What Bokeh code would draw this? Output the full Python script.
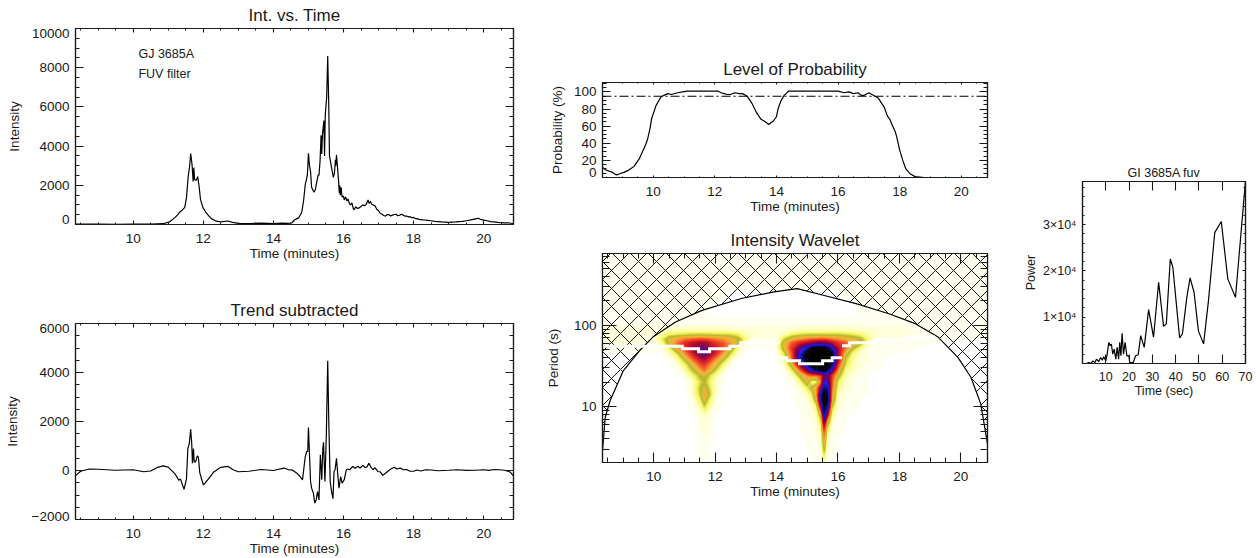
import numpy as np
from bokeh.embed import file_html
from bokeh.resources import INLINE
from bokeh.plotting import figure
from bokeh.layouts import row, column
from bokeh.models import FixedTicker, LinearAxis, LogAxis, Range1d, Label, Span

FONT = "Liberation Sans"

# ---- light curve
LC_T = [8.35,9.0,9.5,10.0,10.5,10.86,11.05,11.19,11.28,11.33,11.38,11.43,11.47,11.52,11.57,11.61,11.64,11.68,11.71,11.73,11.75,11.8,11.84,11.88,11.92,11.99,12.08,12.15,12.23,12.37,12.5,12.7,12.84,13.0,13.3,13.65,14.0,14.25,14.4,14.5,14.53,14.6,14.67,14.72,14.78,14.81,14.86,14.91,14.95,14.97,15.0,15.03,15.06,15.09,15.13,15.16,15.2,15.24,15.28,15.3,15.33,15.36,15.38,15.4,15.42,15.44,15.46,15.48,15.52,15.55,15.58,15.6,15.62,15.66,15.71,15.74,15.77,15.78,15.8,15.83,15.86,15.88,15.89,15.91,15.93,15.96,16.0,16.02,16.06,16.1,16.13,16.17,16.2,16.24,16.28,16.3,16.35,16.4,16.45,16.5,16.55,16.6,16.65,16.7,16.73,16.77,16.8,16.85,16.9,16.95,17.0,17.05,17.1,17.15,17.2,17.25,17.3,17.35,17.4,17.45,17.5,17.55,17.6,17.65,17.7,17.75,17.8,17.85,17.9,17.95,18.0,18.05,18.1,18.15,18.2,18.3,18.4,18.5,18.6,18.7,18.8,19.0,19.1,19.2,19.3,19.4,19.5,19.6,19.7,19.8,19.85,19.9,20.0,20.1,20.2,20.3,20.4,20.5,20.6,20.7,20.85]
LC_V = [20,15,10,15,20,40,150,350,520,640,700,800,860,1370,2460,2970,3620,3050,2200,2900,2300,2250,2450,1950,1280,860,600,450,300,170,130,180,110,60,50,70,45,70,60,70,90,230,300,340,520,640,1200,2050,2350,2550,3630,3000,2700,1900,1750,1650,1800,2200,2550,2500,3200,4550,3600,4600,4950,5300,3500,5600,6500,8600,6000,3500,3300,2900,2400,2600,3300,3000,3550,2900,2200,1600,2000,1500,1900,1400,1450,1250,1400,1200,1300,1050,1000,1100,800,760,900,820,850,920,1000,960,1030,1250,1080,1180,1050,1000,950,780,700,560,520,460,430,510,500,430,480,510,520,450,470,520,480,430,430,390,400,340,360,300,300,260,250,230,210,190,160,150,130,110,120,130,150,160,190,220,260,300,320,270,220,190,150,130,110,100,80,90,40]

# ---- trend subtracted curve
TR_T = [8.35,8.5,8.75,9.0,9.5,10.0,10.3,10.5,10.7,10.85,11.0,11.2,11.3,11.35,11.45,11.52,11.56,11.6,11.64,11.67,11.69,11.72,11.74,11.78,11.83,11.86,11.9,12.0,12.05,12.2,12.3,12.5,12.7,12.85,13.0,13.3,13.65,14.0,14.3,14.45,14.53,14.6,14.67,14.76,14.83,14.87,14.91,14.95,14.98,15.0,15.03,15.06,15.09,15.14,15.18,15.22,15.26,15.3,15.34,15.38,15.41,15.43,15.47,15.51,15.55,15.58,15.62,15.66,15.7,15.73,15.76,15.8,15.83,15.87,15.92,15.96,16.02,16.08,16.13,16.18,16.23,16.27,16.33,16.41,16.47,16.56,16.62,16.68,16.72,16.78,16.84,16.9,16.98,17.05,17.12,17.2,17.26,17.35,17.45,17.52,17.62,17.7,17.8,17.9,18.0,18.1,18.2,18.35,18.5,18.7,19.0,19.25,19.5,19.75,20.0,20.15,20.3,20.45,20.6,20.75,20.85]
TR_V = [-220,-30,60,50,10,30,-50,-20,130,190,140,-150,-400,-350,-770,-350,900,1100,1680,1100,300,900,350,350,600,550,-100,-580,-520,-250,-60,130,170,30,-50,-30,40,0,100,20,30,-40,-110,-245,-380,100,570,775,775,1750,640,-450,-720,-925,-1330,-1200,-860,-1200,640,-380,910,1150,-450,1450,4480,2000,-450,-860,-1150,-40,30,500,-40,-720,-245,-520,-380,30,60,30,120,160,90,170,100,210,110,160,300,150,30,110,-40,-60,-200,-110,-40,60,130,60,100,30,40,-30,-30,20,-20,30,20,-10,10,30,5,10,30,5,40,30,10,-60,-220]

# ---- probability
PR_T = [8.35,8.45,8.52,8.6,8.68,8.75,8.82,8.95,9.05,9.17,9.3,9.38,9.55,9.65,9.75,9.82,9.9,9.95,10.09,10.25,10.35,10.47,10.6,10.79,10.95,11.1,12.1,12.2,12.3,12.4,12.5,12.65,12.8,12.9,13.05,13.2,13.35,13.5,13.6,13.68,13.75,13.82,13.9,14.0,14.05,14.15,14.25,14.4,16.0,16.2,16.35,16.5,16.65,16.75,16.85,17.0,17.1,17.3,17.5,17.6,17.68,17.75,17.85,17.9,18.0,18.1,18.2,18.35,18.5,18.8,20.85]
PR_V = [12,9,8,7,6,4,3,5,6,8,11,13,22,30,38,45,58,69,84,94,96,98,97,99,100,101,101,99,98,97,97,99,98,98,95,87,76,68,66,64,62,64,66,71,80,90,96,101,101,99,100,98,99,96,96,99,97,93,82,72,68,62,54,48,32,20,10,4,1,0,0]
CONF_LEVEL = 95

# ---- wavelet
WV_T = [8.35,9,9.5,10,10.25,10.5,10.75,11,11.25,11.5,11.65,11.8,12,12.25,12.5,12.75,13,13.25,13.5,14,14.25,14.5,14.75,15,15.15,15.3,15.45,15.55,15.65,15.8,16,16.25,16.5,16.75,17,17.25,17.5,18,18.5,19,20,20.85]
WV_P = [2.05,3,4,5,6.5,8,10,12,14,17,20,24,28,33,38,45,52,60,68,76,85,100,130,200,400,767]
WV_Z = [
 [0,0,0,0,0,0,0,0,0,1, 2,1,0,0,0,0,0,0,0,0, 0,0,0,1,1,1,3,8,2,1, 1,0,0,0,0,0,0,0,0,0,0,0],
 [0,0,0,0,0,0,0,0,0,2, 2,2,0,0,0,0,0,0,0,0, 0,0,0,1,2,2,4,25,4,2, 1,0,0,0,0,0,0,0,0,0,0,0],
 [0,0,0,0,0,0,0,0,0,2, 3,2,1,0,0,0,0,0,0,0, 0,0,0,2,2,3,6,36,6,2, 1,1,0,0,0,0,0,0,0,0,0,0],
 [0,0,0,0,0,0,0,0,0,3, 4,3,1,0,0,0,0,0,0,0, 0,0,1,2,2,4,9,46,14,3, 2,1,1,0,0,0,0,0,0,0,0,0],
 [0,0,0,0,0,0,0,0,0,3, 4,3,1,0,0,0,0,0,0,0, 0,0,1,2,3,5,18,66,34,6, 2,1,1,1,0,0,0,0,0,0,0,0],
 [0,0,0,0,0,0,0,0,1,4, 8,4,2,0,0,0,0,0,0,0, 0,0,1,3,4,8,30,84,62,12, 3,2,1,1,0,0,0,0,0,0,0,0],
 [0,0,0,0,0,0,0,0,2,8, 20,10,3,0,0,0,0,0,0,0, 0,0,2,3,5,15,62,93,84,24, 4,2,2,1,0,0,0,0,0,0,0,0],
 [0,0,0,0,0,0,0,0,3,14, 30,16,4,1,0,0,0,0,0,0, 0,1,2,4,10,30,78,99,92,36, 5,3,2,1,1,0,0,0,0,0,0,0],
 [0,0,0,0,0,0,0,0,5,20, 37,24,5,1,0,0,0,0,0,0, 0,1,3,6,16,34,80,96,90,38, 7,3,2,2,1,0,0,0,0,0,0,0],
 [0,0,0,0,0,0,0,1,5,22, 30,20,6,1,0,0,0,0,0,0, 0,1,4,16,26,36,62,86,84,44, 12,4,3,2,1,0,0,0,0,0,0,0],
 [0,0,0,0,0,0,0,1,6,18, 24,16,6,2,0,0,0,0,0,0, 1,2,10,32,10,14,42,76,76,46, 16,5,3,2,1,0,0,0,0,0,0,0],
 [0,0,0,0,0,0,1,3,12,24, 28,20,10,3,0,0,0,0,0,0, 1,5,24,38,42,40,48,64,68,50, 28,7,4,2,1,1,0,0,0,0,0,0],
 [0,0,0,0,0,0,2,7,22,36, 42,34,22,6,1,0,0,0,0,0, 2,16,42,66,80,88,92,94,90,74, 38,12,6,3,2,1,1,0,0,0,0,0],
 [0,0,0,0,0,1,4,14,30,46, 50,42,32,14,3,0,0,0,0,0, 5,30,62,88,97,99,99,99,97,88, 50,18,8,4,2,2,1,1,0,0,0,0],
 [0,0,0,0,0,2,8,24,42,56, 60,52,40,26,8,1,0,0,0,1, 10,42,78,97,99,99,99,99,99,96, 60,22,8,4,3,2,1,1,1,0,0,0],
 [1,1,1,1,1,6,18,38,54,68, 74,64,54,38,20,4,1,0,0,1, 18,46,78,95,99,99,99,99,99,94, 60,30,12,5,3,2,2,1,1,0,0,0],
 [3,2,2,2,3,14,34,48,60,68, 70,64,56,46,30,10,1,1,1,2, 30,50,70,84,92,96,96,96,92,82, 60,40,24,9,3,2,2,2,1,1,0,0],
 [4,4,4,3,8,28,42,52,58,62, 62,58,52,46,38,24,5,2,2,3, 30,46,54,60,64,68,68,68,66,60, 52,46,36,24,7,2,2,2,2,1,1,1],
 [5,4,4,4,14,30,36,40,42,44, 44,42,40,38,34,26,12,3,3,3, 20,32,36,40,42,42,44,44,42,40, 38,34,30,25,12,4,3,3,3,2,1,1],
 [5,4,4,4,10,16,18,20,22,22, 22,22,20,20,20,16,8,5,4,4, 8,16,20,22,22,22,22,22,22,22, 22,20,18,14,8,5,4,4,3,2,2,2],
 [4,4,4,4,6,8,8,9,9,9, 9,9,9,9,8,7,6,5,4,4, 5,7,8,9,9,9,9,9,9,9, 9,8,8,7,6,5,4,4,3,3,2,2],
 [3,3,3,3,3,3,3,3,3,3, 3,3,3,3,3,3,3,3,3,3, 3,3,3,3,3,3,3,3,3,3, 3,3,3,3,3,3,3,3,2,2,2,2],
 [3,3,3,3,2,2,1,1,1,1, 1,1,1,1,1,1,1,1,1,1, 1,1,1,1,1,1,1,1,1,1, 1,1,1,1,1,1,1,2,2,2,2,3],
 [3,3,3,3,3,3,3,3,2,2, 2,2,1,1,0,0,0,0,0,0, 0,0,0,0,0,0,0,0,0,0, 0,1,1,2,2,3,3,3,3,3,3,3],
 [3,3,3,3,3,3,3,3,3,3, 3,3,3,3,3,3,3,3,3,3, 3,3,3,3,3,3,3,3,3,3, 3,3,3,3,3,3,3,3,3,3,3,3],
 [2,2,2,2,2,2,2,2,2,2, 2,2,2,2,2,2,2,2,2,2, 2,2,2,2,2,2,2,2,2,2, 2,2,2,2,2,2,2,2,2,2,2,2],
]
COLOR_POS = [0, 2, 6, 15, 24, 30, 36, 44, 52, 62, 70, 78, 86, 93, 100]
COLOR_RGB = [(255,255,255),(255,255,240),(255,255,200),(248,248,90),(178,178,50),(225,190,50),(250,165,50),(240,90,40),(230,30,30),(150,0,50),(90,0,130),(30,30,230),(10,10,120),(0,0,0),(0,0,0)]

COI_T = [8.33,8.42,8.58,9.01,9.54,9.97,10.71,11.57,12.85,13.92,14.67,15.52,16.59,17.66,18.52,19.26,19.9,20.33,20.65,20.87]
COI_P = [2.86,7.4,11.9,27.8,49,71.8,110,153,214,258,284,235,185,139,105,71.8,40.6,23,10.8,3.47]
RIDGE_T = [8.37,10.93,10.93,11.46,11.46,11.82,11.82,12.48,12.48,12.83,12.83,14.11,float("nan"),14.11,14.33,14.33,14.75,14.75,15.5,15.5,15.81,15.81,16.13,float("nan"),16.13,16.38,16.38,17.16,17.16,18.25,18.25,19.16]
RIDGE_P = [55.4,55.4,51.5,51.5,47.3,47.3,51.5,51.5,55.4,55.4,61.1,61.1,float("nan"),39.8,39.8,36.6,36.6,33.7,33.7,36.6,36.6,39.8,39.8,float("nan"),56.1,56.1,61.1,61.1,66.5,66.5,71.7,71.7]

# ---- power spectrum
PW_S = [1.7,2.7,3.5,4.5,5.3,6,7,7.8,8.5,9.1,10,10.6,11.3,11.9,12.4,13,13.6,14.3,14.9,15.5,16,16.5,17,17.6,18.3,19.05,19.9,20.3,21.8,22.8,23.9,25,26.5,28.4,30.5,32.7,34.8,36,37.7,38.8,41.7,42.9,44.8,46.2,47.9,49.8,52,54.1,56.8,59.6,62.4,65.7,70]
PW_V = [0,220,0,580,150,940,430,1300,720,1450,580,2030,4560,3840,4200,2030,3100,940,3480,940,4560,1670,6520,2030,4560,1670,1670,220,220,1670,1880,6040,3500,11650,5680,17550,8060,8560,22600,20800,5540,6400,14300,18500,15400,7000,4240,13600,28300,30700,18300,14300,39500]

TIME_TICKS = [10,12,14,16,18,20]
TIME_MINOR = [8.5,9,9.5,10.5,11,11.5,12.5,13,13.5,14.5,15,15.5,16.5,17,17.5,18.5,19,19.5,20.5]
TITLE_SIZE = "17px"; TEXT_SIZE = "13.5px"
INK = "#1a1a1a"

def style(ax, size=TEXT_SIZE, label_standoff=6, axis_standoff=0, mj=8, mn=4):
    ax.axis_line_color = INK; ax.axis_line_width = 1.2
    ax.major_tick_line_color = INK; ax.minor_tick_line_color = INK
    ax.major_tick_line_width = 1.1; ax.minor_tick_line_width = 1
    ax.major_tick_in = mj; ax.major_tick_out = 0
    ax.minor_tick_in = mn; ax.minor_tick_out = 0
    ax.major_label_text_font = FONT; ax.major_label_text_font_size = size
    ax.major_label_text_color = INK
    ax.axis_label_text_font = FONT; ax.axis_label_text_font_size = size
    ax.axis_label_text_font_style = "normal"; ax.axis_label_text_color = INK
    ax.major_label_standoff = label_standoff
    ax.axis_label_standoff = axis_standoff

def tick_only(ax, ticker, mj, mn):
    style(ax, "0px", 0, 0, mj, mn)
    ax.ticker = ticker
    ax.major_label_overrides = {t: "" for t in ticker.ticks}

def panel(title, xlabel, ylabel, xr, yr, w, h, l, r, t, b, xt, yt, ylabel_pos, ylabels, xm=(4,2), ym=(8,4),
          size=TEXT_SIZE, tsize=TITLE_SIZE, ytype="linear", ylab_so=6, xlab_so=9, yaxis_so=2, tso=7):
    p = figure(width=w, height=h, min_border_left=l, min_border_right=r, min_border_top=t, min_border_bottom=b,
               x_range=Range1d(*xr), y_range=Range1d(*yr), y_axis_type=ytype,
               output_backend="svg", toolbar_location=None, tools="")
    p.grid.visible = False
    p.outline_line_color = INK; p.outline_line_width = 1.2
    p.xaxis.ticker = xt
    style(p.xaxis[0], size, xlab_so, 0, *xm)
    p.xaxis.axis_label = xlabel
    tick_only(p.yaxis[0], yt, *ym)
    lab = (LogAxis if ytype == "log" else LinearAxis)(ticker=FixedTicker(ticks=ylabel_pos))
    style(lab, size, ylab_so, yaxis_so, 0, 0)
    lab.axis_line_color = None; lab.major_tick_line_color = None; lab.minor_tick_line_color = None
    lab.major_label_overrides = dict(zip(ylabel_pos, ylabels))
    lab.axis_label = ylabel
    p.add_layout(lab, "left")
    p.title.text = title; p.title.align = "center"
    p.title.text_font = FONT; p.title.text_font_size = tsize
    p.title.text_font_style = "normal"; p.title.text_color = INK
    p.title.standoff = tso
    top = LinearAxis(); tick_only(top, xt, *xm); p.add_layout(top, "above")
    rgt = (LogAxis if ytype == "log" else LinearAxis)(); tick_only(rgt, yt, *ym); p.add_layout(rgt, "right")
    return p

XR = (8.354, 20.85)
xt = FixedTicker(ticks=TIME_TICKS, minor_ticks=TIME_MINOR)

p1 = panel("Int. vs. Time", "Time (minutes)", "Intensity", XR, (0, 10000), 530, 275, 75, 17, 26, 51, xt,
           FixedTicker(ticks=[0,2000,4000,6000,8000,10000], minor_ticks=list(range(500,10000,500))),
           [250,2000,4000,6000,8000,9750], ["0","2000","4000","6000","8000","10000"], yaxis_so=7)
p1.line(LC_T, LC_V, line_color="black", line_width=1.2)
for y, txt in ((8700, "GJ 3685A"), (7700, "FUV filter")):
    p1.add_layout(Label(x=10.15, y=y, text=txt, text_baseline="middle", text_font=FONT, text_font_size="12.5px", text_color=INK))

p2 = panel("Trend subtracted", "Time (minutes)", "Intensity", XR, (-2000, 6000), 530, 283, 75, 17, 48, 38, xt,
           FixedTicker(ticks=[-2000,0,2000,4000,6000], minor_ticks=list(range(-1500,6000,500))),
           [-1860,0,2000,4000,5800], ["\u22122000","0","2000","4000","6000"], yaxis_so=9)
p2.line(TR_T, TR_V, line_color="black", line_width=1.2)

p3 = panel("Level of Probability", "Time (minutes)", "Probability (%)", XR, (0, 111), 470, 225, 72, 13, 82, 48, xt,
           FixedTicker(ticks=[0,20,40,60,80,100], minor_ticks=list(range(5,111,5))),
           [6,20,40,60,80,100], ["0","20","40","60","80","100"], xm=(2,1), yaxis_so=6)
p3.line(PR_T, PR_V, line_color="black", line_width=1.2)
p3.add_layout(Span(location=CONF_LEVEL, dimension="width", line_color="black", line_width=1.1, line_dash="9 3 2 3"))

p4 = panel("Intensity Wavelet", "Time (minutes)", "Period (s)", (8.33, 20.87), (2.05, 767), 470, 333, 69, 9, 28, 96, xt,
           FixedTicker(ticks=[10,100], minor_ticks=[3,4,5,6,7,8,9,20,30,40,50,60,70,80,90,200,300,400,500,600,700]),
           [10,100], ["10","100"], xm=(10,5), ym=(14,7), ytype="log", yaxis_so=10)
levels = np.arange(1, 102, 2.0)
mids = (levels[:-1] + levels[1:]) / 2
band_rgb = [np.interp(mids, COLOR_POS, [c[i] for c in COLOR_RGB]) for i in range(3)]
level_rgb = [np.interp(levels, COLOR_POS, [c[i] for c in COLOR_RGB]) for i in range(3)]
to_hex = lambda r: ["#%02x%02x%02x" % (int(a), int(b), int(c)) for a, b, c in zip(*r)]
p4.contour(WV_T, WV_P, np.array(WV_Z, dtype=float), levels=levels, fill_color=to_hex(band_rgb), line_color=to_hex(level_rgb), line_width=1)
p4.patch(COI_T + [20.87, 8.33], COI_P + [767, 767], fill_alpha=0, line_color=None,
         hatch_pattern="diagonal_cross", hatch_scale=18, hatch_color="black", hatch_weight=1, hatch_alpha=0.9)
p4.line(COI_T, COI_P, line_color="black", line_width=1.2)
p4.line(RIDGE_T, RIDGE_P, line_color="white", line_width=3, line_join="miter")

p5 = panel("GI 3685A fuv", "Time (sec)", "Power", (0, 70), (0, 39350), 256, 558, 82, 11, 181, 195,
           FixedTicker(ticks=[10,20,30,40,50,60,70]),
           FixedTicker(ticks=[10000,20000,30000], minor_ticks=list(range(2000,39000,2000))),
           [10000,20000,30000], ["1\u00d710\u2074","2\u00d710\u2074","3\u00d710\u2074"],
           xm=(9,0), ym=(3,2), size="12.5px", tsize="12.5px", xlab_so=8, tso=3)
p5.line(PW_S, PW_V, line_color="black", line_width=1.2)

lay = row(column(p1, p2), column(p3, p4), p5)
open("out.html", "w").write(file_html(lay, INLINE))
